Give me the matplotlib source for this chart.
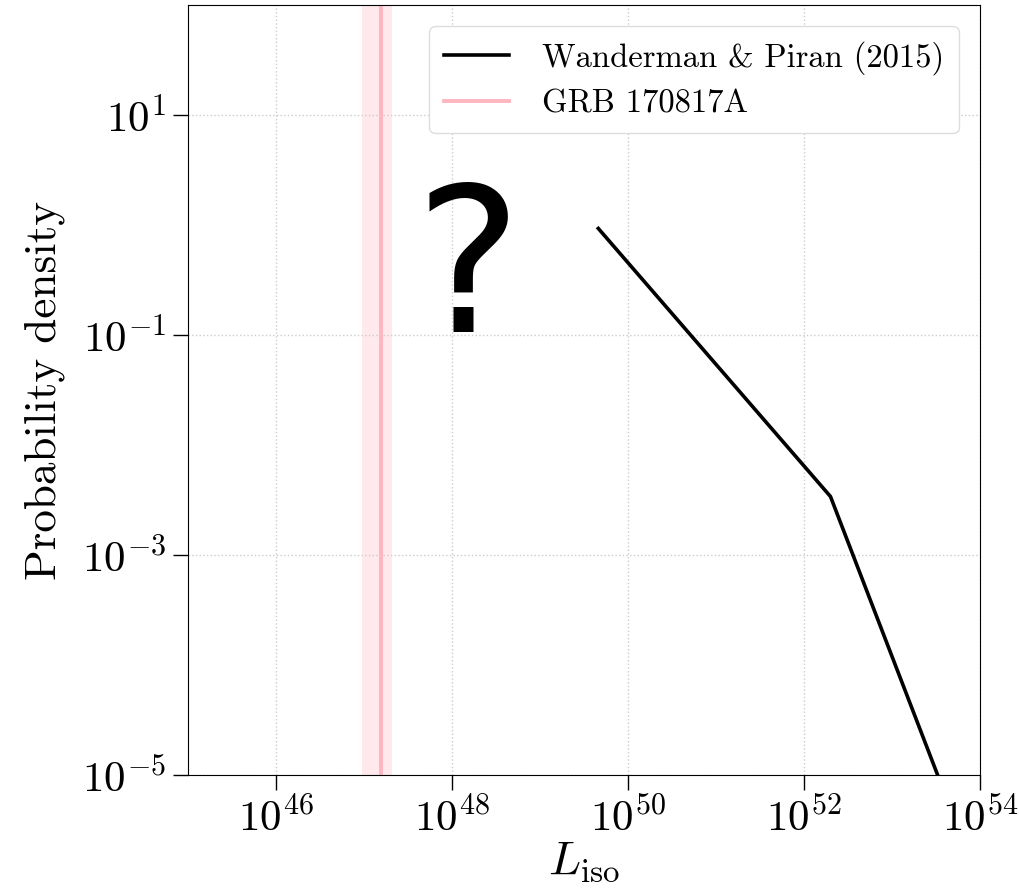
import matplotlib
matplotlib.use("Agg")
import matplotlib.pyplot as plt
import numpy as np

# Computer Modern look
plt.rcParams['font.family'] = 'serif'
plt.rcParams['font.serif'] = ['cmr10']
plt.rcParams['mathtext.fontset'] = 'cm'
plt.rcParams['axes.formatter.use_mathtext'] = True

# Wanderman & Piran (2015) broken power law (break points)
lum_wp = [4.6e49, 2.0e52, 3.3e53]
pdf_wp = [0.93, 3.4e-3, 1.0e-5]

# GRB 170817A isotropic luminosity and range
lum_grb = 1.55e47
lum_grb_lo = 9.5e46
lum_grb_hi = 2.1e47

xticks = [1e46, 1e48, 1e50, 1e52, 1e54]
yticks = [1e1, 1e-1, 1e-3, 1e-5]

fig = plt.figure(figsize=(10.19, 8.92), dpi=100)
ax = fig.add_axes([188/1019, 1 - 775/892, (980-188)/1019, (775-5)/892])

ax.plot(lum_wp, pdf_wp, color='black', lw=2.6, label='Wanderman & Piran (2015)')
ax.axvline(lum_grb, color='#ffb6c1', lw=2.8, label='GRB 170817A')
ax.axvspan(lum_grb_lo, lum_grb_hi, color='pink', alpha=0.35, lw=0)

ax.text(1.5e48, 0.34, '?', family='DejaVu Sans', fontsize=145,
        ha='center', va='center')

ax.set_xscale('log')
ax.set_yscale('log')
ax.set_xlim(1e45, 1e54)
ax.set_ylim(1e-5, 1e2)
ax.set_xticks(xticks)
ax.set_yticks(yticks)
ax.minorticks_off()
ax.tick_params(labelsize=31, length=11, width=1, direction='out', pad=5)
ax.grid(True, ls=':', color='#cccccc', lw=1)

ax.set_xlabel(r'$L_{\rm iso}$', fontsize=34, labelpad=0)
ax.set_ylabel('Probability density', fontsize=32.5, labelpad=12)

ax.legend(loc='upper right', fontsize=23.5, handlelength=2.0,
          handletextpad=1.0, labelspacing=0.45, borderpad=0.45,
          borderaxespad=0.65, framealpha=1, edgecolor='#dddddd')

fig.savefig('out.png', dpi=100)
